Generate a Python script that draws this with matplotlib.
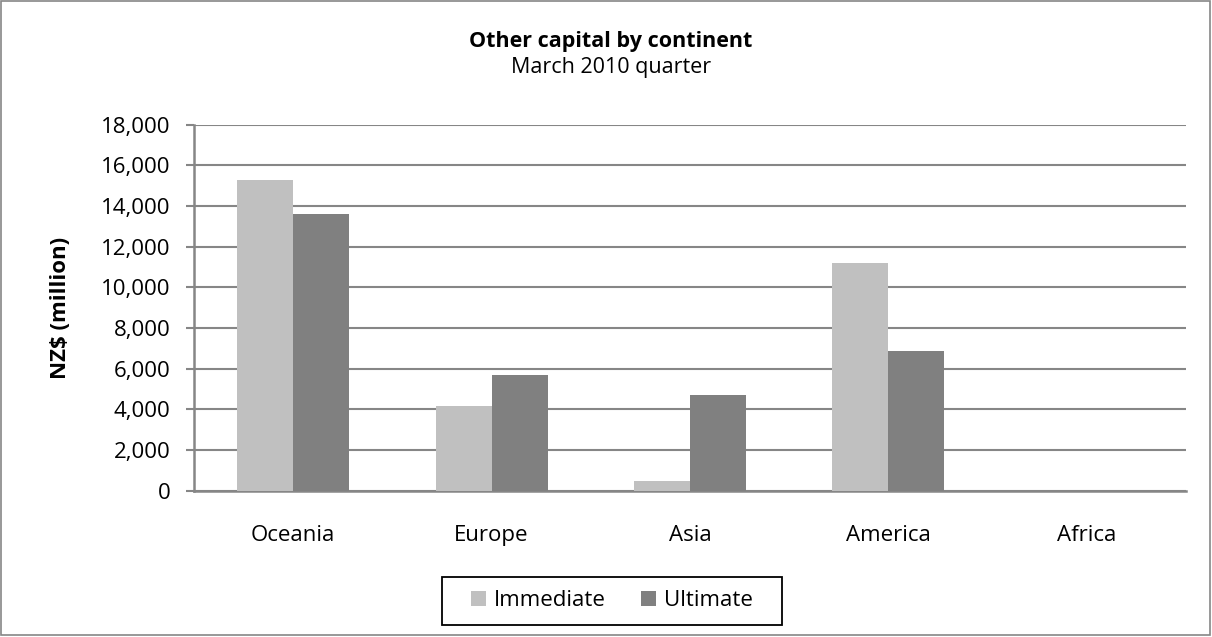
import matplotlib
matplotlib.use("Agg")
import matplotlib.pyplot as plt
import numpy as np
from matplotlib.patches import Rectangle

categories = ["Oceania", "Europe", "Asia", "America", "Africa"]
immediate = [15280, 4180, 460, 11220, 0]
ultimate = [13600, 5670, 4690, 6870, 0]
yticks = [0, 2000, 4000, 6000, 8000, 10000, 12000, 14000, 16000, 18000]

plt.rcParams['font.family'] = ['Open Sans', 'DejaVu Sans']

W, H = 1212, 637
fig = plt.figure(figsize=(W / 100, H / 100), dpi=100)

def fx(px):
    return px / W

def fy(py):
    return 1 - py / H

# outer frame
fig.patches.append(Rectangle((fx(1), fy(635)), (W - 3) / W, (H - 3) / H,
                             transform=fig.transFigure, fill=False,
                             edgecolor="#868686", linewidth=1.2))

left, right, top, bottom = 194, 1186, 124.7, 490.7
ax = fig.add_axes([fx(left), fy(bottom), (right - left) / W, (bottom - top) / H])

x = np.arange(len(categories))
bw = 0.282
grid_c = "#868686"
ax.bar(x - bw / 2, immediate, bw, color="#c0c0c0", label="Immediate", zorder=3)
ax.bar(x + bw / 2, ultimate, bw, color="#808080", label="Ultimate", zorder=3)

ax.set_xlim(-0.5, len(categories) - 0.5)
ax.set_ylim(0, 18000)
ax.set_yticks(yticks)
ax.set_yticklabels([f"{v:,}" for v in yticks], fontsize=16)
ax.set_xticks(x)
ax.set_xticklabels(categories, fontsize=16)
ax.tick_params(axis="x", length=0, pad=25)
ax.tick_params(axis="y", length=6, width=1.5, color=grid_c, pad=11)

ax.yaxis.grid(True, color=grid_c, linewidth=1.5, zorder=0)
ax.set_axisbelow(True)
for s in ["top", "right"]:
    ax.spines[s].set_visible(False)
for s in ["left", "bottom"]:
    ax.spines[s].set_color(grid_c)
    ax.spines[s].set_linewidth(1.8)

fig.text(fx(60), fy(307.7), "NZ$ (million)", rotation=90, ha="center", va="center",
         fontsize=16, fontweight="bold")

fig.text(fx(611), fy(42), "Other capital by continent", ha="center", va="center",
         fontsize=15.5, fontweight="bold")
fig.text(fx(611), fy(67), "March 2010 quarter", ha="center", va="center", fontsize=15.5)

# legend frame
fig.patches.append(Rectangle((fx(442), fy(625)), (782 - 442) / W, (625 - 577) / H,
                             transform=fig.transFigure, fill=False,
                             edgecolor="black", linewidth=1.3))
leg = fig.legend(loc="center", bbox_to_anchor=(fx(612), fy(601)), ncol=2,
                 frameon=False, fontsize=16,
                 handlelength=0.65, handleheight=0.65, columnspacing=1.6,
                 handletextpad=0.36, borderpad=0.3)

fig.savefig("out.png", dpi=100)
